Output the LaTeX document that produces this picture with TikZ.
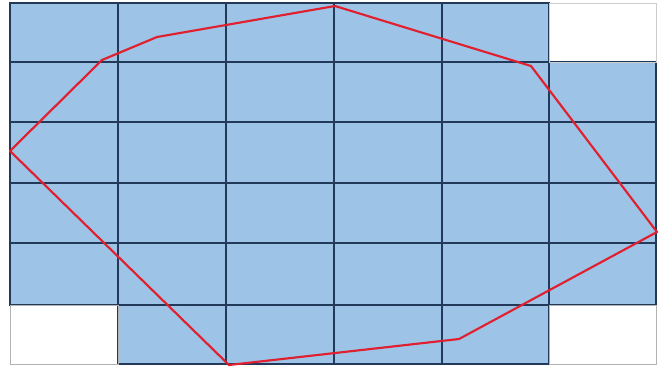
\documentclass[tikz,border=0pt]{standalone}
\begin{document}
\begin{tikzpicture}[x=0.75pt,y=-0.75pt,
  cellfill/.style={fill=cellblue},
  gridline/.style={draw=gridnavy,line width=1.1pt},
  hull/.style={draw=hullred,line width=1.6pt,line join=round}]
\definecolor{cellblue}{HTML}{9DC3E6}
\definecolor{gridnavy}{HTML}{22395A}
\definecolor{hullred}{HTML}{E0202E}
\useasboundingbox (0,0) rectangle (672,369);
\def\xs{{10,118,226,334,442,549,656}}
\def\ys{{3,62,122,183,243,305,364}}
% cells
\foreach \r in {0,...,5}{
  \foreach \c in {0,...,5}{
    \pgfmathtruncatemacro{\skip}{(\r==0 && \c==5) || (\r==5 && \c==0) || (\r==5 && \c==5) ? 1 : 0}
    \ifnum\skip=0
      \pgfmathsetmacro{\xa}{\xs[\c]}
      \pgfmathsetmacro{\xb}{\xs[\c+1]}
      \pgfmathsetmacro{\ya}{\ys[\r]}
      \pgfmathsetmacro{\yb}{\ys[\r+1]}
      \path[cellfill,gridline] (\xa,\ya) rectangle (\xb,\yb);
    \fi
  }
}
% blank cells outlines (faint)
\draw[gray!60,line width=0.6pt] (10,305) rectangle (118,364);
\draw[gray!60,line width=0.6pt] (549,305) rectangle (656,364);
\draw[gray!40,line width=0.6pt] (549,3) rectangle (656,62);
% hull polygon
\coordinate (p1) at (102,60);
\coordinate (p2) at (157,37);
\coordinate (p3) at (335,6);
\coordinate (p4) at (531,66);
\coordinate (p5) at (657,232);
\coordinate (p6) at (459,339);
\coordinate (p7) at (229,365);
\coordinate (p8) at (10,151);
\draw[hull] (p1) -- (p2) -- (p3) -- (p4) -- (p5) -- (p6) -- (p7) -- (p8) -- cycle;
\end{tikzpicture}
\end{document}
